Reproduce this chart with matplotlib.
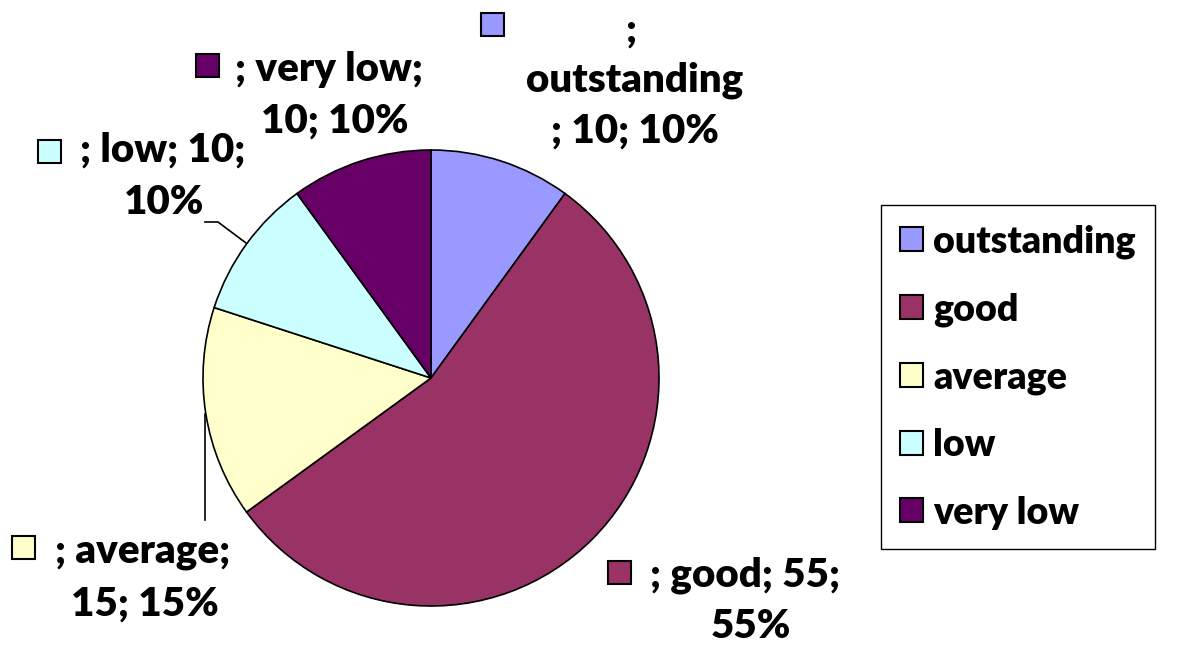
import matplotlib
matplotlib.use("Agg")
import matplotlib.pyplot as plt
from matplotlib.patches import Rectangle

categories = ["outstanding", "good", "average", "low", "very low"]
values = [10, 55, 15, 10, 10]
colors = ["#9999FF", "#993366", "#FFFFCC", "#CCFFFF", "#660066"]

W, H = 1179, 646
plt.rcParams['font.family'] = ['Lato', 'DejaVu Sans']
FS = 29
LFS = 27
WT = 800

fig = plt.figure(figsize=(W / 100, H / 100), dpi=100)
ax = fig.add_axes([0, 0, 1, 1])

cx, cy, r = 431, H - 378, 228
wedges, _ = ax.pie(values, colors=colors, startangle=90, counterclock=False,
                   center=(cx, cy), radius=r,
                   wedgeprops=dict(edgecolor='black', linewidth=1.2))
ax.set_xlim(0, W)
ax.set_ylim(0, H)
ax.set_aspect('equal')
ax.axis('off')

total = sum(values)

def sq(x, y, c, s=23):
    ax.add_patch(Rectangle((x, H - y - s), s, s, facecolor=c, edgecolor='black', lw=1.5))

def txt(x, y, s, ha='center'):
    ax.text(x, H - y, s, fontsize=FS, fontweight=WT, ha=ha, va='center')

pct = [f"{round(v / total * 100)}%" for v in values]

# outstanding
sq(481, 13, colors[0])
txt(632, 30, ";")
txt(635, 80, categories[0])
txt(635, 131, f"; {values[0]}; {pct[0]}")
# very low
sq(196, 54, colors[4])
txt(235, 69, f"; {categories[4]};", ha='left')
txt(335, 121, f"{values[4]}; {pct[4]}")
# low
sq(38, 140, colors[3])
txt(80, 150, f"; {categories[3]}; {values[3]};", ha='left')
txt(164, 202, pct[3])
ax.plot([205, 218, 246], [H - 222, H - 222, H - 243], color='black', lw=1.2)
# average
sq(12, 536, colors[2])
txt(55, 552, f"; {categories[2]};", ha='left')
txt(145, 604, f"{values[2]}; {pct[2]}")
ax.plot([205, 205], [H - 414, H - 520], color='black', lw=1.2)
# good
sq(608, 561, colors[1])
txt(650, 575, f"; {categories[1]}; {values[1]};", ha='left')
txt(751, 627, pct[1])

leg = ax.legend(wedges, categories, loc='center',
                bbox_to_anchor=(1018 / W, 1 - 377 / H), bbox_transform=fig.transFigure,
                prop=dict(family=['Lato', 'DejaVu Sans'], weight=WT, size=LFS),
                frameon=True, fancybox=False, edgecolor='black', framealpha=1,
                handlelength=0.61, handleheight=0.61, handletextpad=0.27,
                labelspacing=0.89, borderpad=0.52, borderaxespad=0)
leg.get_frame().set_linewidth(1.0)
for h in leg.legend_handles:
    h.set_linewidth(1.5)

fig.savefig("out.png", dpi=100)
